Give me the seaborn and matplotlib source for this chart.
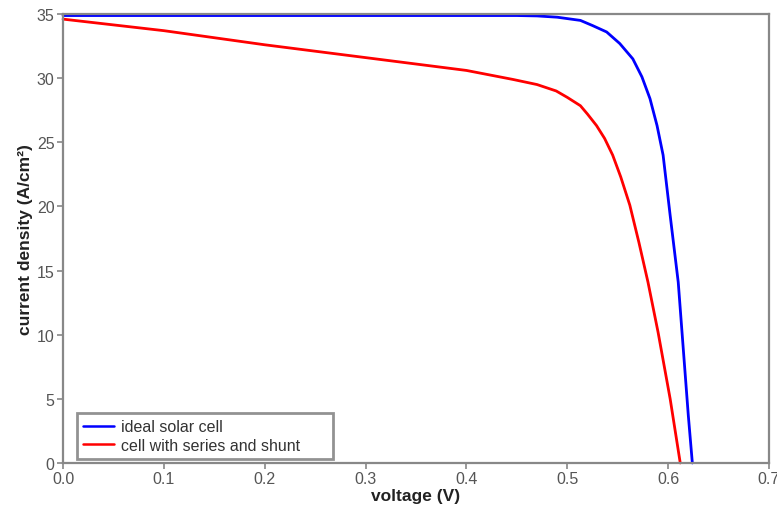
import matplotlib
matplotlib.use("Agg")
import matplotlib.pyplot as plt
import seaborn as sns
import pandas as pd

blue_v = [0, 0.45, 0.47, 0.49, 0.513, 0.525, 0.539, 0.552, 0.565, 0.574, 0.582, 0.589,
          0.595, 0.602, 0.610, 0.615, 0.620, 0.624]
blue_j = [34.88, 34.88, 34.85, 34.75, 34.5, 34.1, 33.6, 32.7, 31.5, 30.1, 28.4, 26.3,
          24.0, 19.3, 14.1, 8.9, 3.7, 0]
red_v = [0, 0.1, 0.2, 0.3, 0.4, 0.446, 0.47, 0.489, 0.5, 0.513, 0.52, 0.529, 0.537,
         0.545, 0.553, 0.562, 0.571, 0.58, 0.59, 0.602, 0.612]
red_j = [34.6, 33.7, 32.6, 31.6, 30.6, 29.9, 29.5, 29.0, 28.5, 27.85, 27.2, 26.3, 25.3,
         24.0, 22.3, 20.1, 17.2, 14.1, 10.2, 5.0, 0]
labels = ["ideal solar cell", "cell with series and shunt"]
x_ticks = [0.0, 0.1, 0.2, 0.3, 0.4, 0.5, 0.6, 0.7]
y_ticks = [0, 5, 10, 15, 20, 25, 30, 35]

df = pd.concat([
    pd.DataFrame({"v": blue_v, "j": blue_j, "s": labels[0]}),
    pd.DataFrame({"v": red_v, "j": red_j, "s": labels[1]}),
])

sns.set_theme(style="white")
plt.rcParams['font.family'] = ['Liberation Sans', 'DejaVu Sans']

fig = plt.figure(figsize=(7.77, 5.10), dpi=100)
ax = fig.add_axes([0.0811, 0.0902, 0.9086, 0.8804])
sns.lineplot(data=df, x="v", y="j", hue="s", palette=["#0000ff", "#ff0000"],
             sort=False, estimator=None, linewidth=2, ax=ax, clip_on=False)

ax.set_xlim(0, 0.7)
ax.set_ylim(0, 35)
ax.set_xticks(x_ticks)
ax.set_xticklabels([f"{t:.1f}" for t in x_ticks])
ax.set_yticks(y_ticks)
ax.set_yticklabels([str(t) for t in y_ticks])
ax.tick_params(axis="both", which="both", direction="out", length=4, width=1.2,
               colors="#888888", labelcolor="#555555", labelsize=11.5,
               bottom=True, left=True, top=False, right=False, pad=2)
for sp in ax.spines.values():
    sp.set_color("#888888")
    sp.set_linewidth(1.6)
ax.set_xlabel("voltage (V)", fontsize=12.5, fontweight="bold", color="#222222", labelpad=1)
ax.set_ylabel("current density (A/cm²)", fontsize=12.5, fontweight="bold", color="#222222", labelpad=3)

leg = ax.legend(loc="lower left", bbox_to_anchor=(0.0198, 0.009, 0.3626, 0.1), mode="expand",
                fontsize=11.5, frameon=True, fancybox=False, handlelength=1.9, handletextpad=0.45,
                borderpad=0.4, labelspacing=0.2, borderaxespad=0.0)
leg.get_frame().set_edgecolor("#777777")
leg.get_frame().set_linewidth(2)
for t in leg.get_texts():
    t.set_color("#333333")
for h in leg.get_lines():
    h.set_linewidth(1.8)

fig.savefig("out.png", dpi=100)
